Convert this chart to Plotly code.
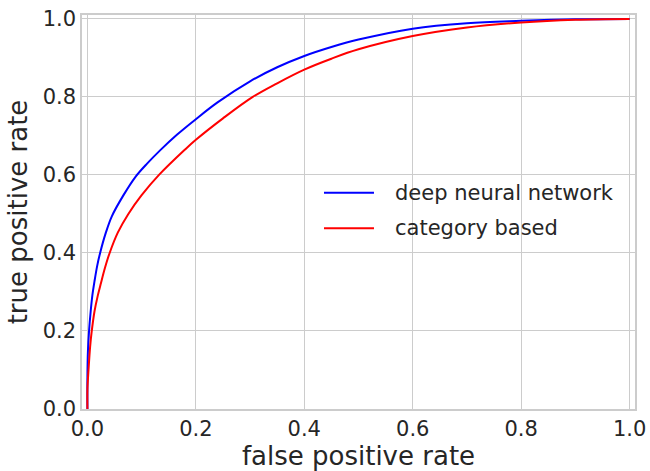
import plotly.graph_objects as go

# ROC curve samples (false positive rate, true positive rate)
dnn_fpr = [0.0, 0.0, 0.001, 0.003, 0.006, 0.009, 0.013, 0.018, 0.0234, 0.034, 0.045,
           0.066, 0.088, 0.11, 0.134, 0.165, 0.2, 0.24, 0.3, 0.35, 0.4, 0.45, 0.5,
           0.6, 0.7, 0.8, 0.9, 1.0]
dnn_tpr = [0.0, 0.08, 0.15, 0.2, 0.25, 0.29, 0.327, 0.367, 0.40, 0.452, 0.494,
           0.547, 0.594, 0.629, 0.663, 0.703, 0.743, 0.786, 0.84, 0.876, 0.905, 0.928,
           0.947, 0.975, 0.989, 0.995, 0.999, 1.0]

cat_fpr = [0.0, 0.0, 0.002, 0.005, 0.008, 0.013, 0.019, 0.025, 0.032, 0.0405, 0.056,
           0.0755, 0.10, 0.132, 0.18, 0.2, 0.25, 0.305, 0.35, 0.4, 0.45, 0.5, 0.6,
           0.7, 0.8, 0.9, 1.0]
cat_tpr = [0.0, 0.05, 0.1, 0.16, 0.2, 0.25, 0.29, 0.323, 0.36, 0.398, 0.452,
           0.50, 0.548, 0.60, 0.665, 0.69, 0.745, 0.80, 0.835, 0.87, 0.898, 0.922,
           0.956, 0.978, 0.991, 0.998, 1.0]

series_names = ["deep neural network", "category based"]
series_colors = ["#0000ff", "#ff0000"]
tick_vals = [0.0, 0.2, 0.4, 0.6, 0.8, 1.0]
tick_text = ["0.0", "0.2", "0.4", "0.6", "0.8", "1.0"]

FONT = "DejaVu Sans"
TEXT = "#262626"
GRID = "#cccccc"

fig = go.Figure()
for xs, ys, name, color in zip([dnn_fpr, cat_fpr], [dnn_tpr, cat_tpr],
                               series_names, series_colors):
    fig.add_trace(go.Scatter(x=xs, y=ys, mode="lines", name=name,
                             line=dict(color=color, width=2, shape="spline", smoothing=1.0),
                             showlegend=False))

# legend drawn as line samples plus labels inside the axes
leg_x0, leg_x1, leg_tx = 0.4376, 0.528, 0.5624
leg_rows = [0.549, 0.459]
for name, color, yy in zip(series_names, series_colors, leg_rows):
    fig.add_shape(type="line", xref="paper", yref="paper",
                  x0=leg_x0, x1=leg_x1, y0=yy, y1=yy,
                  line=dict(color=color, width=2))
    fig.add_annotation(xref="paper", yref="paper", x=leg_tx, y=yy,
                       text=name, showarrow=False, xanchor="left", yanchor="middle",
                       font=dict(family=FONT, size=21, color=TEXT))

axis_common = dict(
    tickvals=tick_vals, ticktext=tick_text,
    showgrid=True, gridcolor=GRID, gridwidth=1,
    showline=True, linecolor=GRID, linewidth=1.5, mirror=True,
    zeroline=False, ticks="", automargin=False,
    tickfont=dict(family=FONT, size=21, color=TEXT),
)

fig.update_xaxes(range=[-0.01, 1.01],
                 title=dict(text="false positive rate", standoff=11,
                            font=dict(family=FONT, size=26, color=TEXT)),
                 **axis_common)
fig.update_yaxes(range=[0.0, 1.01],
                 title=dict(text="true positive rate", standoff=8,
                            font=dict(family=FONT, size=26, color=TEXT)),
                 **axis_common)

fig.update_layout(
    width=650, height=471,
    margin=dict(l=82, r=15, t=15, b=62),
    paper_bgcolor="white", plot_bgcolor="white",
    font=dict(family=FONT, color=TEXT),
)

fig.write_html("out.html")
